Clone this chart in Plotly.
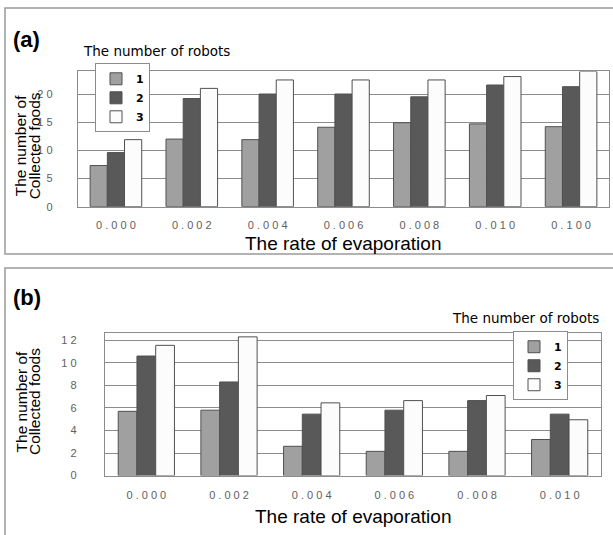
import plotly.graph_objects as go

# ---- data ----
rates_a = ["0.000", "0.002", "0.004", "0.006", "0.008", "0.010", "0.100"]
a_robot1 = [7.3, 12.0, 11.9, 14.1, 14.9, 14.7, 14.2]
a_robot2 = [9.6, 19.2, 20.0, 20.0, 19.5, 21.6, 21.3]
a_robot3 = [11.9, 21.0, 22.5, 22.5, 22.5, 23.1, 24.0]

rates_b = ["0.000", "0.002", "0.004", "0.006", "0.008", "0.010"]
b_robot1 = [5.7, 5.8, 2.6, 2.15, 2.15, 3.2]
b_robot2 = [10.6, 8.3, 5.45, 5.8, 6.65, 5.45]
b_robot3 = [11.55, 12.3, 6.45, 6.65, 7.1, 4.95]

robot_names = ["1", "2", "3"]
a_yticks = [0, 5, 10, 15, 20]
b_yticks = [0, 2, 4, 6, 8, 10, 12]

# ---- style ----
W, H = 613, 535
colors = ["#a0a0a0", "#595959", "#fcfcfc"]
outline = "#505050"
gridc = "#8c8c8c"
tickfont = dict(family="Liberation Sans, Arial", size=11, color="#606060")


def px(x):
    return x / W


def py(y):
    return 1 - y / H


def spaced(s):
    return " ".join(str(s))


fig = go.Figure()

for i, vals in enumerate([a_robot1, a_robot2, a_robot3]):
    fig.add_trace(go.Bar(
        x=rates_a, y=vals, name=robot_names[i], xaxis="x", yaxis="y",
        marker=dict(color=colors[i], line=dict(color=outline, width=1)),
        legend="legend",
    ))
for i, vals in enumerate([b_robot1, b_robot2, b_robot3]):
    fig.add_trace(go.Bar(
        x=rates_b, y=vals, name=robot_names[i], xaxis="x2", yaxis="y2",
        marker=dict(color=colors[i], line=dict(color=outline, width=1)),
        legend="legend2",
    ))

axis_common = dict(showline=True, mirror=True, linecolor=gridc, linewidth=1.3,
                   tickfont=tickfont, ticks="", zeroline=False)

legend_font = dict(family="DejaVu Sans", size=11, color="black", weight="bold")

fig.update_layout(
    width=W, height=H,
    margin=dict(l=0, r=0, t=0, b=0),
    paper_bgcolor="white", plot_bgcolor="white",
    barmode="group", bargap=0.32, bargroupgap=0,
    showlegend=True,
    font=dict(family="Liberation Sans, Arial", color="black"),
    xaxis=dict(domain=[px(78), px(609)], anchor="y", type="category",
               tickvals=rates_a, ticktext=[spaced(r) for r in rates_a],
               showgrid=False, ticklabelstandoff=8, **axis_common),
    yaxis=dict(domain=[py(209), py(72.3)], anchor="x", range=[0, 24],
               tickvals=a_yticks, ticktext=[spaced(v) for v in a_yticks],
               showgrid=True, gridcolor=gridc, gridwidth=1.3,
               ticklabelstandoff=22, **axis_common),
    xaxis2=dict(domain=[px(105), px(601)], anchor="y2", type="category",
                tickvals=rates_b, ticktext=[spaced(r) for r in rates_b],
                showgrid=False, ticklabelstandoff=9, **axis_common),
    yaxis2=dict(domain=[py(481), py(336.7)], anchor="x2", range=[0, 12.65],
                tickvals=b_yticks, ticktext=[spaced(v) for v in b_yticks],
                showgrid=True, gridcolor=gridc, gridwidth=1.3,
                ticklabelstandoff=25, **axis_common),
    legend=dict(x=px(95), y=py(64), xanchor="left", yanchor="top",
                bgcolor="white", bordercolor=gridc, borderwidth=1,
                font=legend_font, itemwidth=30, tracegroupgap=0),
    legend2=dict(x=px(513), y=py(335), xanchor="left", yanchor="top",
                 bgcolor="white", bordercolor=gridc, borderwidth=1,
                 font=legend_font, itemwidth=30, tracegroupgap=0),
)

# frames around the two panels
fig.add_shape(type="rect", xref="paper", yref="paper",
              x0=px(5), x1=px(625), y0=py(257), y1=py(8),
              line=dict(color="#9a9a9a", width=1.5), fillcolor="rgba(0,0,0,0)", layer="below")
fig.add_shape(type="rect", xref="paper", yref="paper",
              x0=px(5), x1=px(625), y0=py(560), y1=py(271),
              line=dict(color="#9a9a9a", width=1.5), fillcolor="rgba(0,0,0,0)", layer="below")

ann = []
# panel labels
plf = dict(family="Liberation Sans, Arial", size=22, color="black", weight="bold")
ann.append(dict(text="(a)", x=px(11), y=py(40), xanchor="left", yanchor="middle", font=plf))
ann.append(dict(text="(b)", x=px(11), y=py(301), xanchor="left", yanchor="middle", font=plf))
# legend titles
gfont = dict(family="DejaVu Sans", size=13.5, color="black")
ann.append(dict(text="The number of robots", x=px(81), y=py(52), xanchor="left",
                yanchor="middle", font=gfont))
ann.append(dict(text="The number of robots", x=px(601), y=py(321.5), xanchor="right",
                yanchor="middle", font=gfont))
# x titles
xtf = dict(family="Liberation Sans, Arial", size=19, color="black")
ann.append(dict(text="The rate of evaporation", x=px(343), y=py(246.5), xanchor="center",
                yanchor="middle", font=xtf))
ann.append(dict(text="The rate of evaporation", x=px(353), y=py(522), xanchor="center",
                yanchor="middle", font=xtf))
# y titles (two lines each)
ytf = dict(family="Liberation Sans, Arial", size=15.5, color="black")
for (x1, x2, yc) in [(20, 34, 148), (21.5, 35, 406.5)]:
    ann.append(dict(text="The number of", x=px(x1), y=py(yc), xanchor="center",
                    yanchor="middle", textangle=-90, font=ytf))
    ann.append(dict(text="Collected foods", x=px(x2), y=py(yc), xanchor="center",
                    yanchor="middle", textangle=-90, font=ytf))

for a in ann:
    a.update(xref="paper", yref="paper", showarrow=False)
    fig.add_annotation(**a)

fig.write_html("out.html", config={"displayModeBar": False},
               post_script="document.body.style.margin='0';document.body.style.overflow='hidden';")
